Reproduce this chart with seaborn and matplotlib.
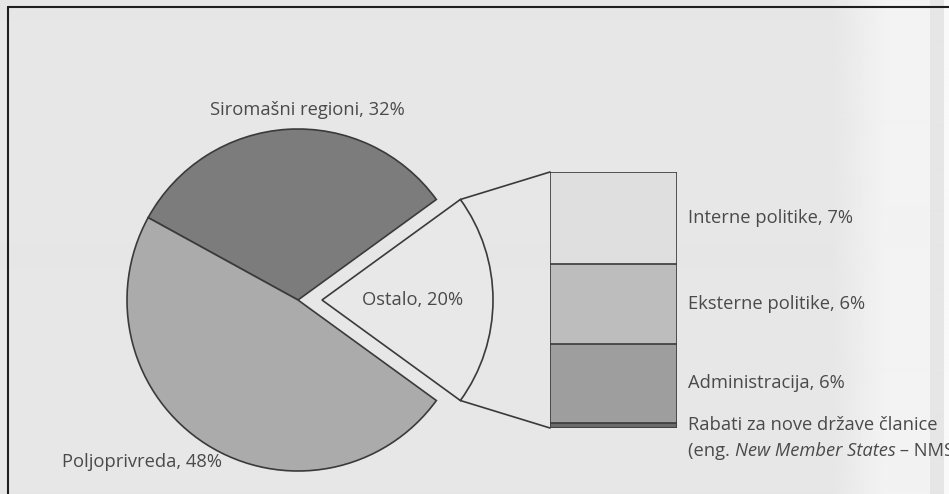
import numpy as np
import pandas as pd
import matplotlib
matplotlib.use("Agg")
import matplotlib.pyplot as plt
import seaborn as sns
from matplotlib.patches import ConnectionPatch
from matplotlib.lines import Line2D

# Budget shares shown in the pie
pie_labels = ["Ostalo", "Siromašni regioni", "Poljoprivreda"]
pie_values = [20, 32, 48]

# Breakdown of "Ostalo", listed top to bottom in the bar
bar_labels = ["Interne politike", "Eksterne politike", "Administracija",
              "Rabati za nove države članice"]
bar_values = [7, 6, 6, 0.4]
bar_pct_text = ["7%", "6%", "6%", None]

sns.set_theme(style="white")
plt.rcParams["font.family"] = ["Open Sans", "DejaVu Sans"]

BG = "#e7e7e7"
TEXT = "#4a4a4a"
EDGE = "#3a3a3a"
pie_colors = ["#e8e8e8", "#7c7c7c", "#ababab"]
bar_colors = ["#dfdfdf", "#bdbdbd", "#9e9e9e", "#6a6a6a"]
FS = 13.2

W, H = 949, 494
fig = plt.figure(figsize=(W / 100, H / 100), dpi=100, facecolor=BG)


def fx(x):
    return x / W


def fy(y):
    return 1 - y / H


# paper tone, lighter towards the page edge
bg_ax = fig.add_axes([0, 0, 1, 1], zorder=-10)
cols = np.arange(W)
tone = np.full(W, 0.906)
ramp = (cols > 835) & (cols <= 885)
tone[ramp] = 0.906 + (cols[ramp] - 835) / 50 * 0.045
tone[cols > 885] = 0.951
tone[(cols >= 930) & (cols <= 943)] = 0.9
tone[cols > 943] = 0.975
bg_ax.imshow(np.tile(tone, (2, 1)), cmap="gray", vmin=0, vmax=1,
             aspect="auto", extent=[0, 1, 0, 1], interpolation="bilinear")
bg_ax.set_axis_off()

# frame
fig.add_artist(Line2D([fx(8), 1], [fy(7), fy(7)], color="#1e1e1e", lw=1.5))
fig.add_artist(Line2D([fx(8), fx(8)], [fy(7), 0], color="#1e1e1e", lw=1.5))

# ---- pie ----
R = 171
cx, cy = 298, 300
side = 2.5 * R
ax_pie = fig.add_axes([fx(cx - side / 2), fy(cy + side / 2), side / W, side / H])
start = -pie_values[0] / sum(pie_values) * 360 / 2
wedges, _ = ax_pie.pie(pie_values, colors=pie_colors, startangle=start,
                       counterclock=True, explode=[24 / R, 0, 0], radius=1,
                       wedgeprops=dict(edgecolor=EDGE, linewidth=1.2))
ax_pie.set_xlim(-1.25, 1.25)
ax_pie.set_ylim(-1.25, 1.25)
ax_pie.set_axis_off()

# label for the exploded slice, inside it
w0 = wedges[0]
mid = np.deg2rad((w0.theta1 + w0.theta2) / 2)
ax_pie.text(w0.center[0] + 0.53 * np.cos(mid), w0.center[1] + 0.53 * np.sin(mid),
            f"{pie_labels[0]}, {pie_values[0]}%", ha="center", va="center",
            fontsize=FS, color=TEXT)
fig.text(fx(307), fy(110), f"{pie_labels[1]}, {pie_values[1]}%",
         ha="center", va="center", fontsize=FS, color=TEXT)
fig.text(fx(142), fy(462), f"{pie_labels[2]}, {pie_values[2]}%",
         ha="center", va="center", fontsize=FS, color=TEXT)

# ---- stacked bar ----
total = sum(bar_values)
tops = np.cumsum(bar_values[::-1])[::-1]  # top edge of each segment
bottoms = tops - np.array(bar_values)
df = pd.DataFrame({"grp": ["Ostalo"] * len(bar_labels),
                   "segment": bar_labels, "top": tops})

ax_bar = fig.add_axes([fx(550), fy(428), 127 / W, 256 / H])
sns.barplot(data=df, x="grp", y="top", hue="segment", hue_order=bar_labels,
            palette=dict(zip(bar_labels, bar_colors)), dodge=False, width=1,
            errorbar=None, edgecolor=EDGE, linewidth=1.2, legend=False,
            ax=ax_bar)
ax_bar.set_xlim(-0.5, 0.5)
ax_bar.set_ylim(0, total)
ax_bar.set_axis_off()

# segment labels to the right of the bar
label_texts = []
for lab, pct, lo, hi in zip(bar_labels, bar_pct_text, bottoms, tops):
    s = f"{lab}, {pct}" if pct else lab
    t = ax_bar.annotate(s, xy=(0.5, (lo + hi) / 2), xytext=(11, 0),
                        textcoords="offset pixels", ha="left", va="center",
                        fontsize=FS, color=TEXT, annotation_clip=False)
    label_texts.append(t)

# connector lines from the exploded slice to the bar
th_top = np.deg2rad(w0.theta2)
th_bot = np.deg2rad(w0.theta1)
for th, yb in [(th_top, total), (th_bot, 0)]:
    pA = (w0.center[0] + w0.r * np.cos(th), w0.center[1] + w0.r * np.sin(th))
    con = ConnectionPatch(xyA=pA, coordsA=ax_pie.transData,
                          xyB=(-0.5, yb), coordsB=ax_bar.transData,
                          color=EDGE, lw=1.2)
    fig.add_artist(con)

# second line of the last label, with the English term in italics
fig.canvas.draw()
renderer = fig.canvas.get_renderer()
last = label_texts[-1]
bb = last.get_window_extent(renderer)
x0 = bb.x0
ybase = (bb.y0 + bb.y1) / 2 - 26
pieces = [("(eng. ", "normal"), ("New Member States", "italic"), (" – NMS)", "normal")]
x = x0
for txt, style in pieces:
    t = fig.text(x / W, ybase / H, txt, ha="left", va="center", fontsize=FS,
                 color=TEXT, style=style)
    x = t.get_window_extent(renderer).x1

fig.savefig("out.png", dpi=100, facecolor=BG)
